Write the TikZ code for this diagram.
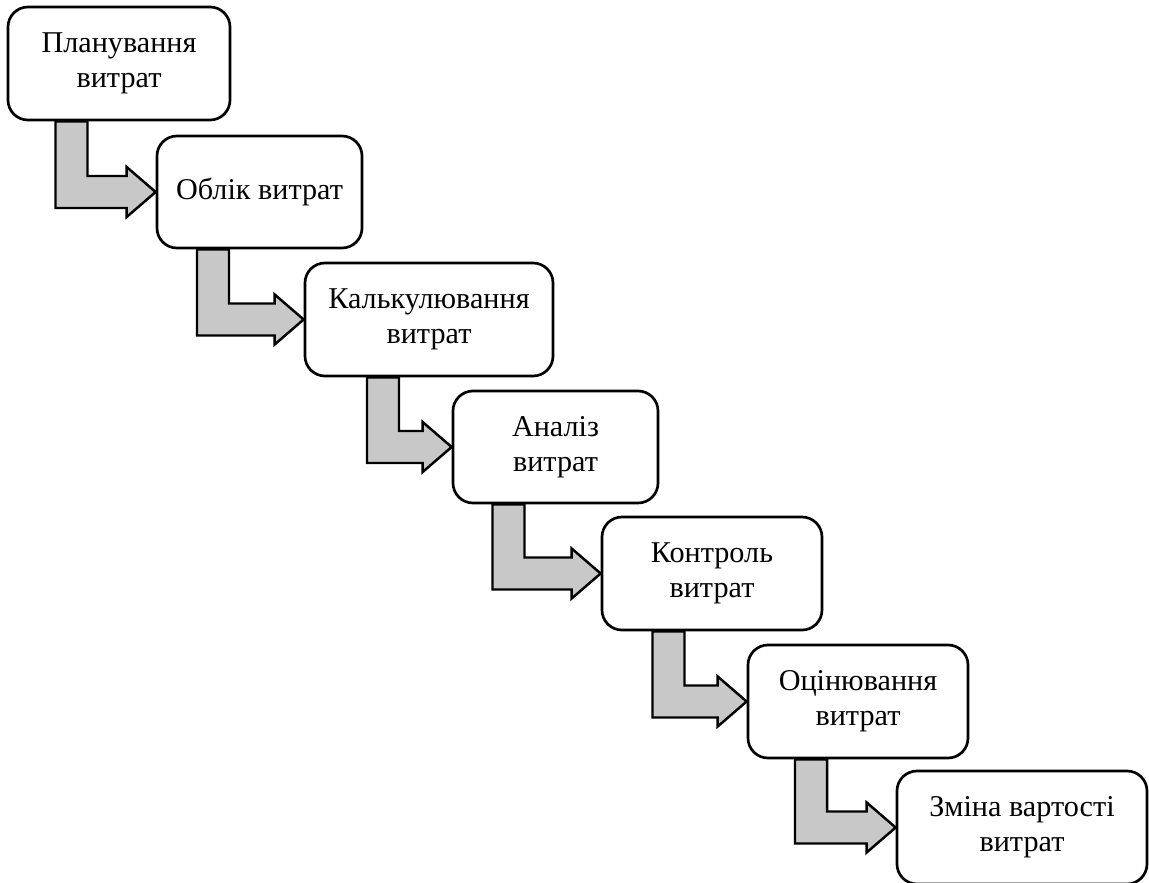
\documentclass[tikz,border=0pt]{standalone}
\usepackage{fontspec}
\setmainfont{Liberation Serif}
\usetikzlibrary{calc,backgrounds}
\definecolor{StageInk}{HTML}{000000}
\definecolor{StageGray}{HTML}{C8C8C8}

\begin{document}
\begin{tikzpicture}[x=0.017cm,y=-0.017cm,
    font=\fontsize{14.6}{17}\selectfont,
    stage/.style={draw=StageInk, line width=1.3pt, rounded corners=0.34cm,
      fill=white, align=center, inner sep=0pt},
    flow/.style={draw=StageInk, line width=1.2pt, fill=StageGray, line join=miter}]
  \useasboundingbox (0,0) rectangle (1149,883);

  % stages
  \node[stage, minimum width=3.774cm, minimum height=1.921cm] (plan) at (119,63.5) {Планування\\витрат};
  \node[stage, minimum width=3.485cm, minimum height=1.904cm] (oblik) at (259.5,192) {Облік витрат};
  \node[stage, minimum width=4.216cm, minimum height=1.921cm] (kalk) at (429,319.5) {Калькулювання\\витрат};
  \node[stage, minimum width=3.485cm, minimum height=1.904cm] (analiz) at (555.5,447) {Аналіз\\витрат};
  \node[stage, minimum width=3.740cm, minimum height=1.921cm] (kontrol) at (712,573.5) {Контроль\\витрат};
  \node[stage, minimum width=3.740cm, minimum height=1.921cm] (otsin) at (858,701.5) {Оцінювання\\витрат};
  \node[stage, minimum width=4.250cm, minimum height=1.921cm] (zmina) at (1022,827.5) {Зміна вартості\\витрат};

  % bent arrows, drawn under the stages
  \begin{scope}[on background layer]
    \foreach \src/\dst/\sx in {plan/oblik/71.5, oblik/kalk/213, kalk/analiz/383,
        analiz/kontrol/508.5, kontrol/otsin/668.5, otsin/zmina/811}{
      \draw[flow] ({\sx-16},0 |- \src.south) |- ($(\dst.west)+(-29,16)$)
        -- ++(0,9) -- (\dst.west) -- ++(-29,-25) -- ++(0,9)
        -| ({\sx+16},0 |- \src.south) -- cycle;
    }
  \end{scope}
\end{tikzpicture}
\end{document}
